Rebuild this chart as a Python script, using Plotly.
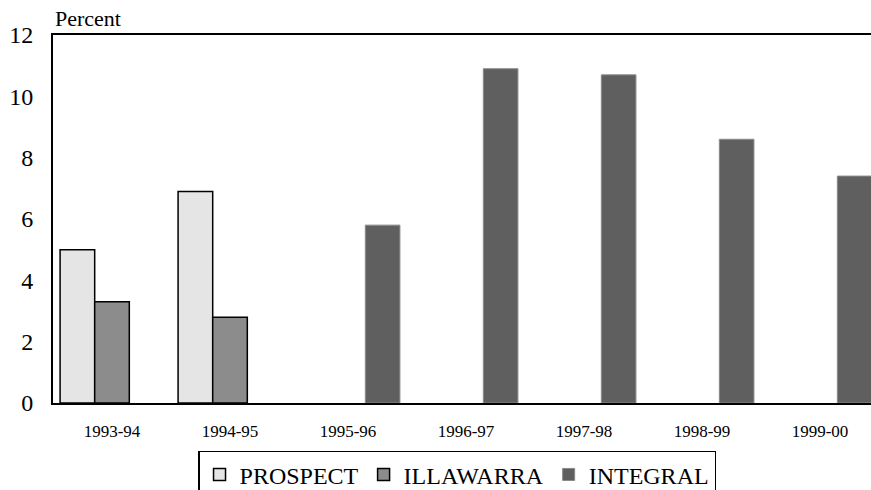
import plotly.graph_objects as go

years = ["1993-94", "1994-95", "1995-96", "1996-97", "1997-98", "1998-99", "1999-00"]
prospect = [5.0, 6.9, None, None, None, None, None]
illawarra = [3.3, 2.8, None, None, None, None, None]
integral = [None, None, 5.8, 10.9, 10.7, 8.6, 7.4]
y_ticks = [0, 2, 4, 6, 8, 10, 12]

serif = "Liberation Serif, Times New Roman, serif"

fig = go.Figure()
fig.add_trace(go.Bar(x=years, y=prospect, name="PROSPECT",
                     marker=dict(color="#e5e5e5", line=dict(color="black", width=1.5))))
fig.add_trace(go.Bar(x=years, y=illawarra, name="ILLAWARRA",
                     marker=dict(color="#8c8c8c", line=dict(color="black", width=1.5))))
fig.add_trace(go.Bar(x=years, y=integral, name="INTEGRAL",
                     marker=dict(color="#5f5f5f", line=dict(color="#8a8a8a", width=1))))

fig.update_layout(
    width=871, height=490,
    margin=dict(l=53, r=0, t=35, b=87, autoexpand=False),
    paper_bgcolor="white", plot_bgcolor="white",
    barmode="group", bargap=0.12, bargroupgap=0,
    font=dict(family=serif, color="black"),
    showlegend=True,
    legend=dict(orientation="h", x=0.1773, y=-0.13, xanchor="left", yanchor="top",
                bordercolor="black", borderwidth=1.5, font=dict(size=24, family=serif),
                traceorder="normal"),
    annotations=[dict(text="Percent", xref="paper", yref="paper", x=0, y=1,
                      xanchor="left", yanchor="bottom", showarrow=False, yshift=2,
                      font=dict(size=22, family=serif))],
)
fig.update_xaxes(type="category", range=[-0.5, 6.432], showline=True, linecolor="black",
                 linewidth=2, mirror=True, showgrid=False, ticks="",
                 tickfont=dict(size=17, family=serif), ticklabelstandoff=12)
fig.update_yaxes(range=[0, 12], tickvals=y_ticks, showline=True, linecolor="black",
                 linewidth=2, showgrid=False, zeroline=False, ticks="",
                 tickfont=dict(size=24, family=serif), ticklabelstandoff=13)

# drop the browser's default page margin so the figure sits at the window corner
fig.write_html("out.html", config={"displayModeBar": False},
               post_script="document.body.style.margin='0';document.body.style.overflow='hidden';")
